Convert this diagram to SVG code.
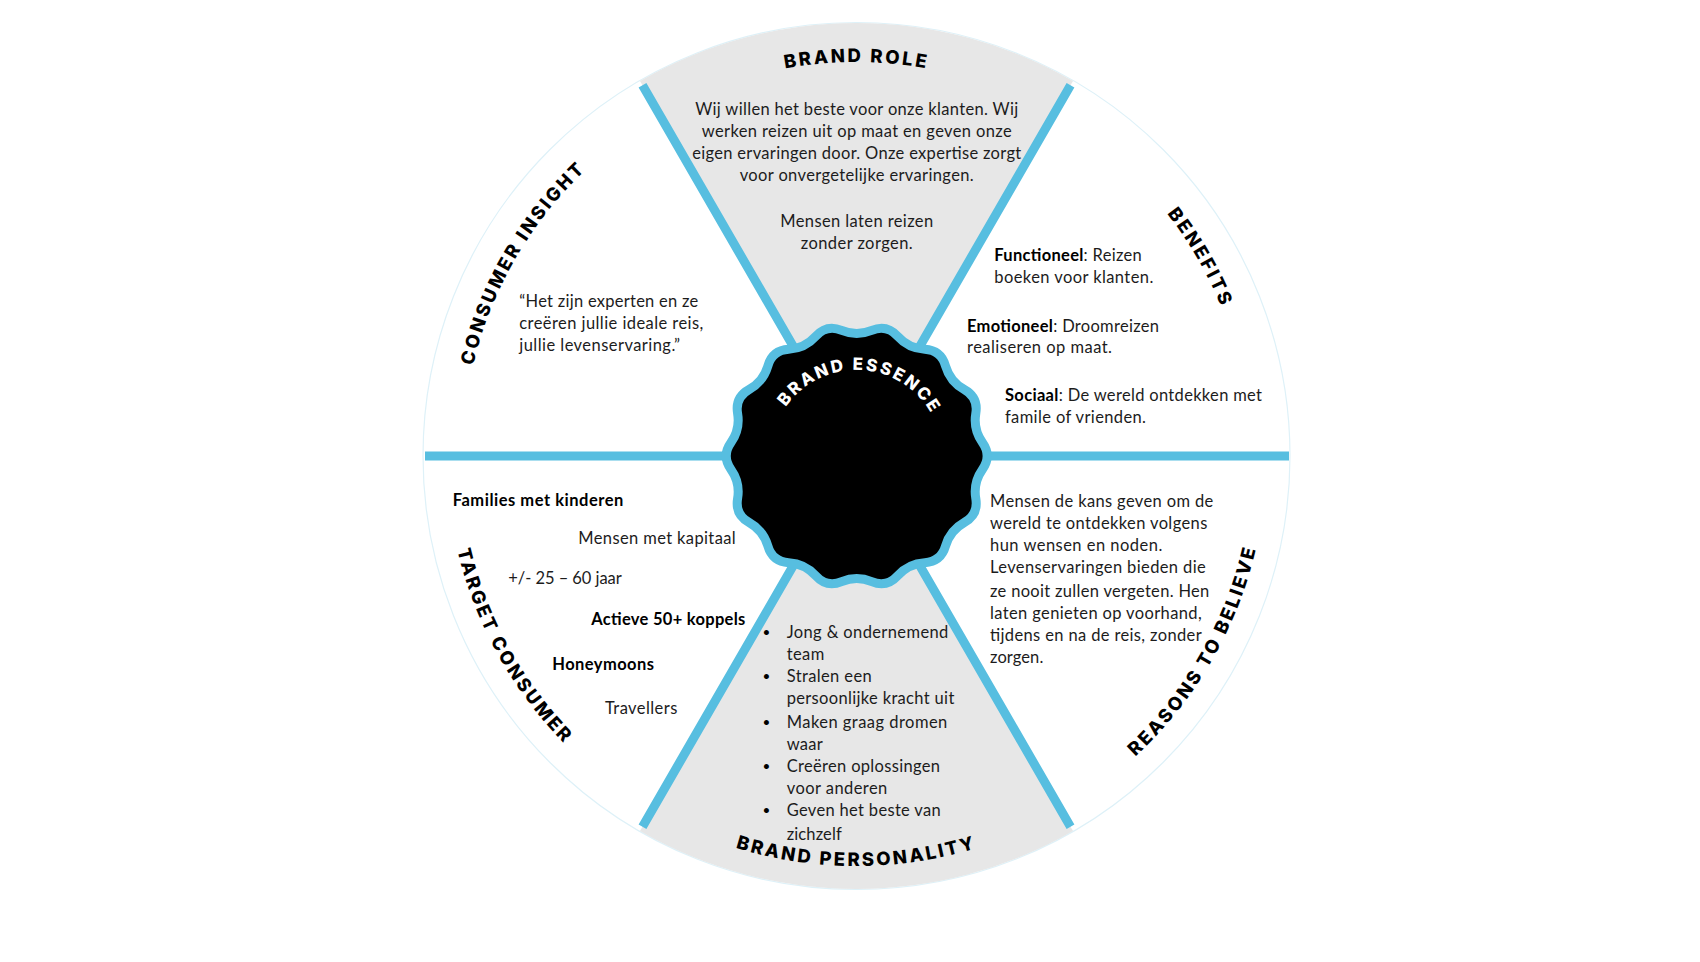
<svg xmlns="http://www.w3.org/2000/svg" width="1700" height="962" viewBox="0 0 1700 962">
<style>
.t{font-family:Lato,"Liberation Sans",sans-serif;font-size:16.5px;fill:#1c1c1c}
.b{font-weight:700;fill:#000}
.m{text-anchor:middle}
.d{font-family:Lato,"Liberation Sans",sans-serif;font-size:13.5px;fill:#000}
.h{font-family:Inter,"Liberation Sans",sans-serif;font-weight:800;font-size:18.5px;letter-spacing:2.5px;fill:#000;text-anchor:middle}
.w{font-family:Inter,"Liberation Sans",sans-serif;font-weight:800;font-size:17px;letter-spacing:2.4px;fill:#fff;text-anchor:middle}
.sector{fill:#e7e7e7}
.spoke{stroke:#57bee0;stroke-width:9;fill:none}
</style>
<defs>
<path id="arcTop" d="M515.3 259A394 394 0 0 1 1197.7 259"/>
<path id="arcBot" d="M501.4 661A410 410 0 0 0 1211.6 661"/>
<path id="arcEss" d="M782 413A86 86 0 0 1 931 413"/>
</defs>
<rect width="1700" height="962" fill="#fff"/>
<circle id="wheel" cx="856.5" cy="456" r="433.5" fill="#fff" stroke="#def1f8" stroke-width="1.2"/>
<g id="connectors">
<path class="sector" d="M856.5 456L640 81A433.5 433.5 0 0 1 1073 81Z"/>
<path class="sector" d="M856.5 456L640 831A433.5 433.5 0 0 0 1073 831Z"/>
<path class="spoke" d="M425 456H1289M642.5 85.3L1070.5 826.7M1070.5 85.3L642.5 826.7"/>
</g>
<g id="brand-role">
<text class="h"><textPath href="#arcTop" startOffset="50%">BRAND ROLE</textPath></text>
<text class="t m" x="856.7" y="115.3" textLength="323">Wij willen het beste voor onze klanten. Wij</text>
<text class="t m" x="856.7" y="137" textLength="310">werken reizen uit op maat en geven onze</text>
<text class="t m" x="856.7" y="158.6" textLength="329">eigen ervaringen door. Onze expertise zorgt</text>
<text class="t m" x="856.7" y="181" textLength="234">voor onvergetelijke ervaringen.</text>
<text class="t m" x="856.7" y="227" textLength="153">Mensen laten reizen</text>
<text class="t m" x="856.7" y="248.7" textLength="112">zonder zorgen.</text>
</g>
<g id="benefits">
<text class="h" transform="rotate(60 856.5 456)"><textPath href="#arcTop" startOffset="50%">BENEFITS</textPath></text>
<text class="t" x="994.3" y="260.7" textLength="147.4"><tspan class="b">Functioneel</tspan>: Reizen</text>
<text class="t" x="994.3" y="282.7" textLength="159">boeken voor klanten.</text>
<text class="t" x="967" y="331.7" textLength="192"><tspan class="b">Emotioneel</tspan>: Droomreizen</text>
<text class="t" x="967" y="353.3" textLength="145">realiseren op maat.</text>
<text class="t" x="1005" y="400.7" textLength="257"><tspan class="b">Sociaal</tspan>: De wereld ontdekken met</text>
<text class="t" x="1005" y="422.7" textLength="141">famile of vrienden.</text>
</g>
<g id="reasons-to-believe">
<text class="h" transform="rotate(-60 856.5 456)"><textPath href="#arcBot" startOffset="50%">REASONS TO BELIEVE</textPath></text>
<text class="t" x="990" y="506.7" textLength="223.3">Mensen de kans geven om de</text>
<text class="t" x="990" y="529" textLength="217.3">wereld te ontdekken volgens</text>
<text class="t" x="990" y="551" textLength="172.3">hun wensen en noden.</text>
<text class="t" x="990" y="573" textLength="215.7">Levenservaringen bieden die</text>
<text class="t" x="990" y="596.7" textLength="219.3">ze nooit zullen vergeten. Hen</text>
<text class="t" x="990" y="619" textLength="211.7">laten genieten op voorhand,</text>
<text class="t" x="990" y="641" textLength="211.7">tijdens en na de reis, zonder</text>
<text class="t" x="990" y="662.7" textLength="53.3">zorgen.</text>
</g>
<g id="brand-personality">
<text class="h"><textPath href="#arcBot" startOffset="50%">BRAND PERSONALITY</textPath></text>
<text class="d" x="762.5" y="636.5">•</text>
<text class="t" x="786.7" y="637.7" textLength="161.6">Jong &amp; ondernemend</text>
<text class="t" x="786.7" y="660" textLength="37.6">team</text>
<text class="d" x="762.5" y="680.5">•</text>
<text class="t" x="786.7" y="682" textLength="85">Stralen een</text>
<text class="t" x="786.7" y="704" textLength="167.6">persoonlijke kracht uit</text>
<text class="d" x="762.5" y="727">•</text>
<text class="t" x="786.7" y="728.3" textLength="160.6">Maken graag dromen</text>
<text class="t" x="786.7" y="750" textLength="36">waar</text>
<text class="d" x="762.5" y="770.5">•</text>
<text class="t" x="786.7" y="772" textLength="153.3">Creëren oplossingen</text>
<text class="t" x="786.7" y="794" textLength="100.6">voor anderen</text>
<text class="d" x="762.5" y="814.5">•</text>
<text class="t" x="786.7" y="816" textLength="154">Geven het beste van</text>
<text class="t" x="786.7" y="840" textLength="55">zichzelf</text>
</g>
<g id="target-consumer">
<text class="h" transform="rotate(61 856.5 456)"><textPath href="#arcBot" startOffset="50%">TARGET CONSUMER</textPath></text>
<text class="t b" x="452.7" y="506" textLength="170.6">Families met kinderen</text>
<text class="t" x="578.3" y="544" textLength="157.4">Mensen met kapitaal</text>
<text class="t" x="508.3" y="584" textLength="113.4">+/- 25 – 60 jaar</text>
<text class="t b" x="591.3" y="625" textLength="154">Actieve 50+ koppels</text>
<text class="t b" x="552.3" y="670" textLength="101.7">Honeymoons</text>
<text class="t" x="605" y="714.3" textLength="72.3">Travellers</text>
</g>
<g id="consumer-insight">
<text class="h" transform="rotate(-60 856.5 456)"><textPath href="#arcTop" startOffset="50%">CONSUMER INSIGHT</textPath></text>
<text class="t" x="519.3" y="306.7" textLength="179">“Het zijn experten en ze</text>
<text class="t" x="519.3" y="329" textLength="184">creëren jullie ideale reis,</text>
<text class="t" x="519.3" y="351" textLength="160.7">jullie levenservaring.”</text>
</g>
<g id="brand-essence">
<path transform="translate(856.7 456)" fill="#000" stroke="#57bee0" stroke-width="9" stroke-linejoin="round" d="M125.8 -13.29Q135.2 0 125.8 13.29Q116.4 26.57 119.1 42.62Q121.8 58.66 107.58 66.55Q93.35 74.44 88.83 90.07Q84.3 105.7 68.05 106.65Q51.8 107.6 40.94 119.7Q30.08 131.8 15.04 125.6Q0 119.4 -15.04 125.6Q-30.08 131.8 -40.94 119.7Q-51.8 107.6 -68.05 106.65Q-84.3 105.7 -88.83 90.07Q-93.35 74.44 -107.58 66.55Q-121.8 58.66 -119.1 42.62Q-116.4 26.57 -125.8 13.29Q-135.2 0 -125.8 -13.29Q-116.4 -26.57 -119.1 -42.62Q-121.8 -58.66 -107.58 -66.55Q-93.35 -74.44 -88.83 -90.07Q-84.3 -105.7 -68.05 -106.65Q-51.8 -107.6 -40.94 -119.7Q-30.08 -131.8 -15.04 -125.6Q0 -119.4 15.04 -125.6Q30.08 -131.8 40.94 -119.7Q51.8 -107.6 68.05 -106.65Q84.3 -105.7 88.83 -90.07Q93.35 -74.44 107.58 -66.55Q121.8 -58.66 119.1 -42.62Q116.4 -26.57 125.8 -13.29Z"/>
<text class="w" transform="rotate(3 856.5 456)"><textPath href="#arcEss" startOffset="50%">BRAND ESSENCE</textPath></text>
</g>
</svg>
